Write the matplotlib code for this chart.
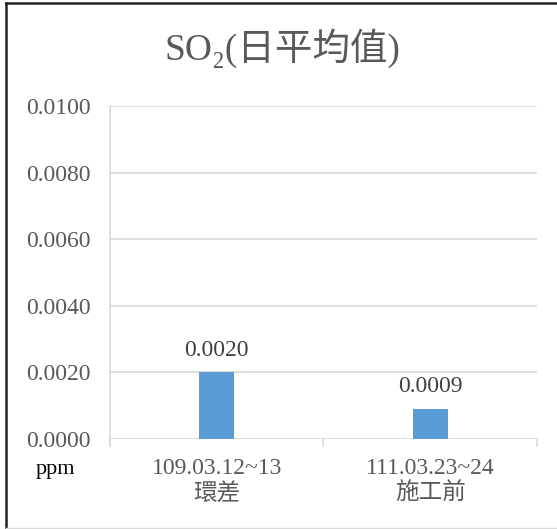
import matplotlib
matplotlib.use("Agg")
import matplotlib.pyplot as plt
from matplotlib.lines import Line2D

plt.rcParams['font.family'] = ['Liberation Serif', 'Noto Sans CJK TC', 'DejaVu Serif']

title = "SO₂(日平均值)"
dates = ["109.03.12~13", "111.03.23~24"]
stages = ["環差", "施工前"]
values = [0.0020, 0.0009]
value_labels = ["0.0020", "0.0009"]
yticks = [0.0, 0.002, 0.004, 0.006, 0.008, 0.010]
unit = "ppm"

text_gray = "#595959"
grid_gray = "#D9D9D9"
bar_blue = "#5B9BD5"

fig = plt.figure(figsize=(5.57, 5.29), dpi=100)
ax = fig.add_axes([0.1975, 0.1701, 0.7665, 0.6295])

x = list(range(len(values)))
ax.bar(x, values, width=0.164, color=bar_blue, zorder=3)

for xi, v, lab in zip(x, values, value_labels):
    ax.annotate(lab, (xi, v), xytext=(0, 8.5), textcoords="offset points",
                ha="center", va="bottom", fontsize=17, color="#404040")

ax.set_xlim(-0.5, len(values) - 0.5)
ax.set_ylim(0, 0.010)
ax.set_yticks(yticks)
ax.set_yticklabels([f"{t:.4f}" for t in yticks], fontsize=17, color=text_gray)
ax.yaxis.grid(True, color=grid_gray, linewidth=1.2, zorder=0)
ax.tick_params(axis="y", length=0, pad=14)

ax.set_xticks(x)
ax.set_xticklabels([f"{d}\n{s}" for d, s in zip(dates, stages)],
                   fontsize=17, color=text_gray, linespacing=1.22)
ax.tick_params(axis="x", length=0, pad=14)
# category boundary tick marks
for bx in [-0.5, 0.5, 1.5]:
    ax.plot([bx, bx], [0, -0.0002], color=grid_gray, linewidth=1.2,
            clip_on=False, zorder=2)

for side in ["top", "right", "bottom"]:
    ax.spines[side].set_visible(False)
ax.spines["left"].set_color(grid_gray)
ax.spines["left"].set_linewidth(1.2)
ax.spines["left"].set_bounds(-0.0002, 0.010)

fig.text(0.507, 0.909, title, ha="center", va="center", fontsize=27, color=text_gray)
fig.text(0.099, 0.113, unit, ha="center", va="center", fontsize=16, color="black")

# outer frame
fig.add_artist(Line2D([0.011, 1.0], [0.994, 0.994], color="#222222", linewidth=1.8,
                      transform=fig.transFigure))
fig.add_artist(Line2D([0.0115, 0.0115], [0.0, 0.994], color="#222222", linewidth=1.8,
                      transform=fig.transFigure))
fig.add_artist(Line2D([0.011, 1.0], [0.002, 0.002], color="#D9D9D9", linewidth=1.0,
                      transform=fig.transFigure))

fig.savefig("out.png", dpi=100)
